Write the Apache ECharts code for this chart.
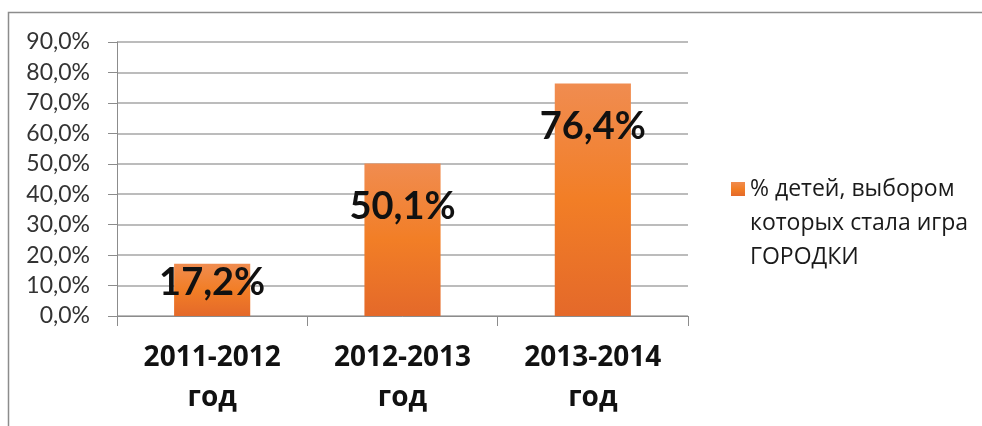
<!DOCTYPE html>
<html>
<head>
<meta charset="utf-8">
<script src="https://cdn.jsdelivr.net/npm/echarts@6/dist/echarts.min.js"></script>
<style>
  html, body { margin: 0; padding: 0; background: #fff; }
  #chart { width: 982px; height: 426px; }
</style>
</head>
<body>
<div id="chart"></div>
<script>
// chart data
var categories = ['2011-2012\nгод', '2012-2013\nгод', '2013-2014\nгод'];
var values = [17.2, 50.1, 76.4];
var seriesName = '% детей, выбором\nкоторых стала игра\nГОРОДКИ';

function pct(v, digits) {
    return v.toFixed(digits).replace('.', ',') + '%';
}

var chart = echarts.init(document.getElementById('chart'));

var barColor = new echarts.graphic.LinearGradient(0, 0, 0, 1, [
    { offset: 0, color: '#f08c50' },
    { offset: 0.5, color: '#f27e26' },
    { offset: 1, color: '#e4692a' }
]);

var option = {
    animation: false,
    backgroundColor: '#fff',
    graphic: [{
        type: 'rect',
        shape: { x: 8.5, y: 12.5, width: 1200, height: 600 },
        style: { fill: 'none', stroke: '#8c8c8c', lineWidth: 1.5 },
        silent: true
    }],
    grid: { left: 117, right: 294, top: 42, bottom: 110 },
    legend: {
        left: 726,
        top: 99,
        icon: 'rect',
        itemWidth: 14,
        itemHeight: 14,
        textStyle: {
            fontFamily: 'Open Sans',
            fontSize: 23,
            color: '#1a1a1a',
            lineHeight: 34
        },
        // two blank lines on top keep the marker level with the first line
        formatter: function (name) { return '\n\n' + name; },
        data: [seriesName]
    },
    xAxis: {
        type: 'category',
        data: categories,
        axisLine: { lineStyle: { color: '#8c8c8c', width: 1 } },
        axisTick: { show: true, length: 10, lineStyle: { color: '#8c8c8c' } },
        axisLabel: {
            margin: 22,
            fontFamily: 'Open Sans',
            fontWeight: 'bold',
            fontSize: 28,
            lineHeight: 40,
            color: '#111'
        }
    },
    yAxis: {
        type: 'value',
        min: 0,
        max: 90,
        interval: 10,
        axisLine: { show: true, lineStyle: { color: '#8c8c8c', width: 1 } },
        axisTick: { show: true, length: 9, lineStyle: { color: '#8c8c8c' } },
        splitLine: { lineStyle: { color: '#a6a6a6', width: 1.5 } },
        axisLabel: {
            margin: 27,
            fontFamily: 'Lato',
            fontSize: 23,
            color: '#333',
            formatter: function (v) { return pct(v, 1); }
        }
    },
    series: [{
        name: seriesName,
        type: 'bar',
        barWidth: '40%',
        itemStyle: { color: barColor },
        data: values.map(function (v, i) {
            return {
                value: v,
                label: { distance: i === 0 ? 0 : 24 }
            };
        }),
        label: {
            show: true,
            position: 'insideTop',
            fontFamily: 'Lato',
            fontWeight: 'bold',
            fontSize: 38,
            color: '#111',
            formatter: function (p) { return pct(p.value, 1); }
        }
    }]
};

chart.setOption(option);
</script>
</body>
</html>
